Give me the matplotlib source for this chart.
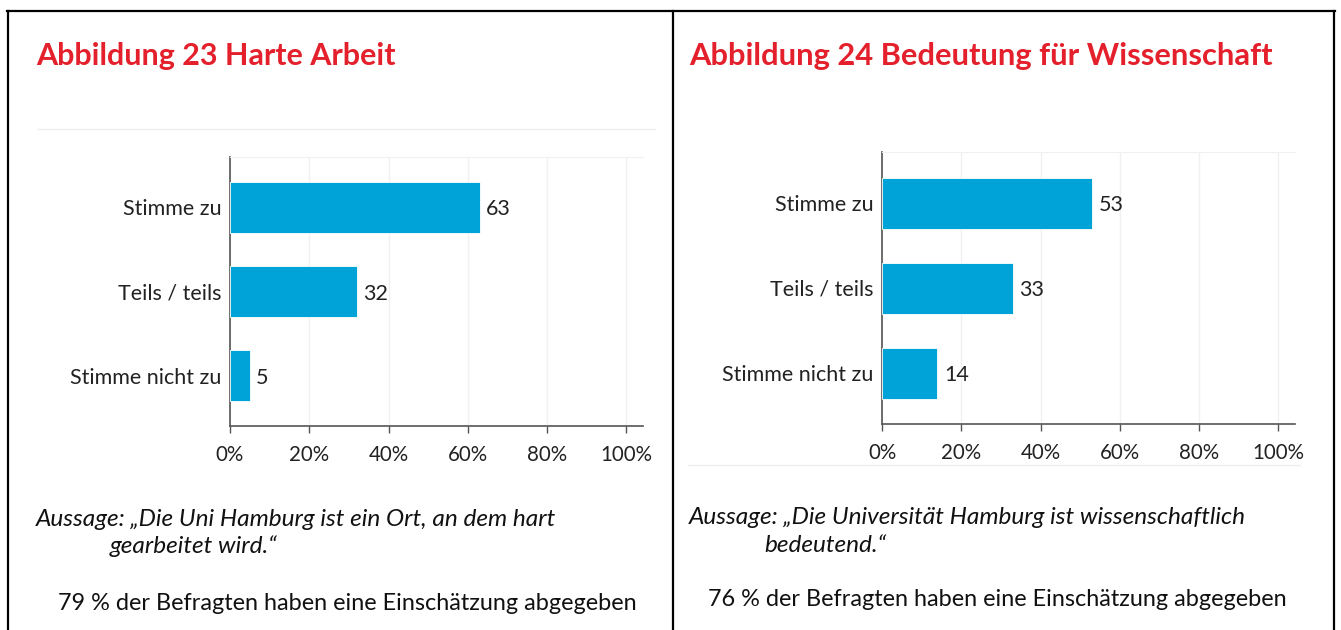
import matplotlib
matplotlib.use("Agg")
import matplotlib.pyplot as plt
from matplotlib.lines import Line2D

# ---- data ----
categories = ["Stimme zu", "Teils / teils", "Stimme nicht zu"]
values_left = [63, 32, 5]
values_right = [53, 33, 14]
xticks = [0, 20, 40, 60, 80, 100]
xtick_labels = ["0%", "20%", "40%", "60%", "80%", "100%"]
title_left = "Abbildung 23 Harte Arbeit"
title_right = "Abbildung 24 Bedeutung für Wissenschaft"
caption_left = ["Aussage: „Die Uni Hamburg ist ein Ort, an dem hart", "gearbeitet wird.“"]
caption_right = ["Aussage: „Die Universität Hamburg ist wissenschaftlich", "bedeutend.“"]
note_left = "79 % der Befragten haben eine Einschätzung abgegeben"
note_right = "76 % der Befragten haben eine Einschätzung abgegeben"

W, H = 1341, 630
FONT = ["Lato", "DejaVu Sans"]
plt.rcParams["font.family"] = FONT

BAR = "#00a3d7"
RED = "#e3202b"
AX = "#555555"
GRID = "#f0f0f0"

fig = plt.figure(figsize=(W / 100, H / 100), dpi=100)
fig.patch.set_facecolor("white")


def fx(x):
    return x / W


def fy(y):
    return 1 - y / H


def box(x0, y0, x1, y1):
    return [fx(x0), fy(y1), (x1 - x0) / W, (y1 - y0) / H]


def hline(x0, x1, y, color, lw):
    fig.add_artist(Line2D([fx(x0), fx(x1)], [fy(y), fy(y)], color=color, lw=lw,
                          transform=fig.transFigure))


def vline(x, y0, y1, color, lw):
    fig.add_artist(Line2D([fx(x), fx(x)], [fy(y0), fy(y1)], color=color, lw=lw,
                          transform=fig.transFigure))


# table borders
hline(7, 1335, 11, "black", 1.6)
vline(8, 11, 632, "black", 1.6)
vline(673, 11, 632, "black", 1.6)
vline(1334, 11, 632, "black", 1.6)

# faint separator lines
hline(38, 655, 129, "#eeeeee", 1.0)
hline(688, 1300, 465, "#eeeeee", 1.0)


def panel(rect, values):
    ax = fig.add_axes(rect)
    ypos = list(range(len(categories)))
    ax.barh(ypos, values, height=0.6, color=BAR, edgecolor="white", linewidth=0.6, zorder=3)
    for y, v in zip(ypos, values):
        ax.text(v + 1.6, y, str(v), va="center_baseline", ha="left", fontsize=15.5, color="#222222")
    ax.set_yticks(ypos)
    ax.set_yticklabels(categories, fontsize=15.5, color="#222222")
    ax.set_xticks(xticks)
    ax.set_xticklabels(xtick_labels, fontsize=14.8, color="#222222")
    ax.set_xlim(0, 104.2)
    ax.set_ylim(2.6, -0.6)
    ax.tick_params(axis="y", length=0, pad=6)
    ax.tick_params(axis="x", length=5, width=1, color=AX, pad=9)
    ax.xaxis.grid(True, color=GRID, lw=1, zorder=0)
    ax.set_axisbelow(True)
    for s in ["left", "bottom"]:
        ax.spines[s].set_color(AX)
        ax.spines[s].set_linewidth(1.2)
    ax.spines["top"].set_color(GRID)
    ax.spines["right"].set_visible(False)
    return ax


panel(box(230, 157, 643, 426), values_left)
panel(box(882, 152, 1295, 424), values_right)

# titles
fig.text(fx(36), fy(56), title_left, color=RED, fontsize=22, fontweight="bold",
         ha="left", va="center")
fig.text(fx(689), fy(56), title_right, color=RED, fontsize=22.2, fontweight="bold",
         ha="left", va="center")

# captions
CAP = 17.6
fig.text(fx(36), fy(520), caption_left[0], fontsize=CAP, style="italic", ha="left", va="center", color="#111111")
fig.text(fx(110), fy(546), caption_left[1], fontsize=CAP, style="italic", ha="left", va="center", color="#111111")
fig.text(fx(689), fy(517), caption_right[0], fontsize=CAP, style="italic", ha="left", va="center", color="#111111")
fig.text(fx(764), fy(546), caption_right[1], fontsize=CAP, style="italic", ha="left", va="center", color="#111111")

NOTE = 16.9
fig.text(fx(58), fy(603), note_left, fontsize=NOTE, ha="left", va="center", color="#111111")
fig.text(fx(708), fy(599), note_right, fontsize=NOTE, ha="left", va="center", color="#111111")

fig.savefig("out.png", dpi=100, facecolor="white")
